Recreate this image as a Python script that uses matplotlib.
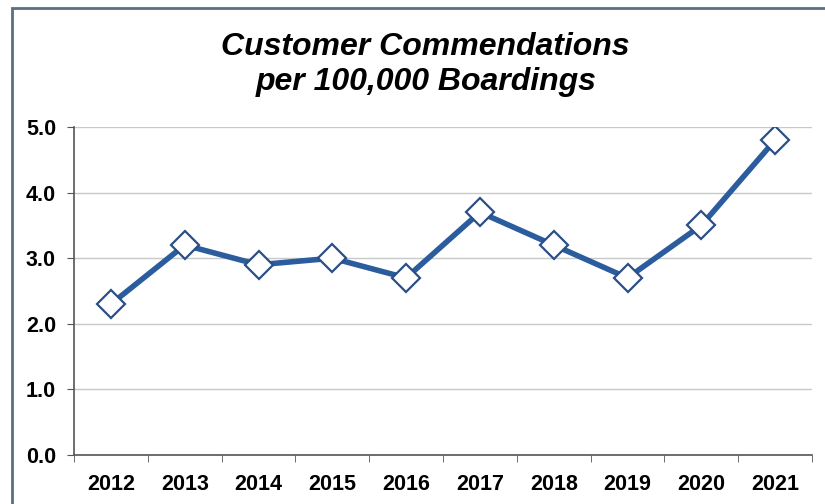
import numpy as np
import matplotlib.pyplot as plt
from matplotlib.patches import Rectangle

years = ['2012', '2013', '2014', '2015', '2016', '2017', '2018', '2019', '2020', '2021']
commendations = [2.3, 3.2, 2.9, 3.0, 2.7, 3.7, 3.2, 2.7, 3.5, 4.8]
y_ticks = [0.0, 1.0, 2.0, 3.0, 4.0, 5.0]

plt.rcParams['font.family'] = ['Liberation Sans', 'DejaVu Sans']

fig = plt.figure(figsize=(8.25, 5.04), dpi=100)
fig.patch.set_facecolor('white')

# outer chart frame
fig.patches.append(Rectangle((12 / 825, -0.05), 1.1, 1 - 8 / 504 + 0.05,
                             transform=fig.transFigure, fill=False,
                             edgecolor='#5a6e86', linewidth=2))

ax = fig.add_axes([74 / 825, 1 - 455 / 504, (812 - 74) / 825, (455 - 127) / 504])
x = np.arange(len(years))
ax.plot(x, commendations, color='#2b5c9e', linewidth=4, marker='D', markersize=14,
        markerfacecolor='white', markeredgecolor='#2a4f86', markeredgewidth=1.6, zorder=3)

ax.set_xlim(-0.5, len(years) - 0.5)
ax.set_ylim(0, 5)
ax.set_yticks(y_ticks)
ax.set_yticklabels([f'{v:.1f}' for v in y_ticks], fontsize=15.5, fontweight='bold')
ax.set_xticks(x)
ax.set_xticklabels(years, fontsize=15.5, fontweight='bold')
ax.set_xticks(np.arange(-0.5, len(years)), minor=True)
ax.tick_params(axis='x', which='major', length=0, pad=14)
ax.tick_params(axis='x', which='minor', length=5, color='#555555', direction='out')
ax.tick_params(axis='y', length=5, color='#555555', pad=8)

ax.grid(axis='y', color='#c8c8c8', linewidth=1)
ax.set_axisbelow(True)
for s in ['top', 'right']:
    ax.spines[s].set_visible(False)
for s in ['left', 'bottom']:
    ax.spines[s].set_color('#555555')
    ax.spines[s].set_linewidth(1.2)

fig.text(0.516, 0.872, 'Customer Commendations\nper 100,000 Boardings', ha='center', va='center',
         fontsize=23, fontweight='bold', fontstyle='italic', linespacing=1.2)

fig.savefig('out.png', dpi=100)
